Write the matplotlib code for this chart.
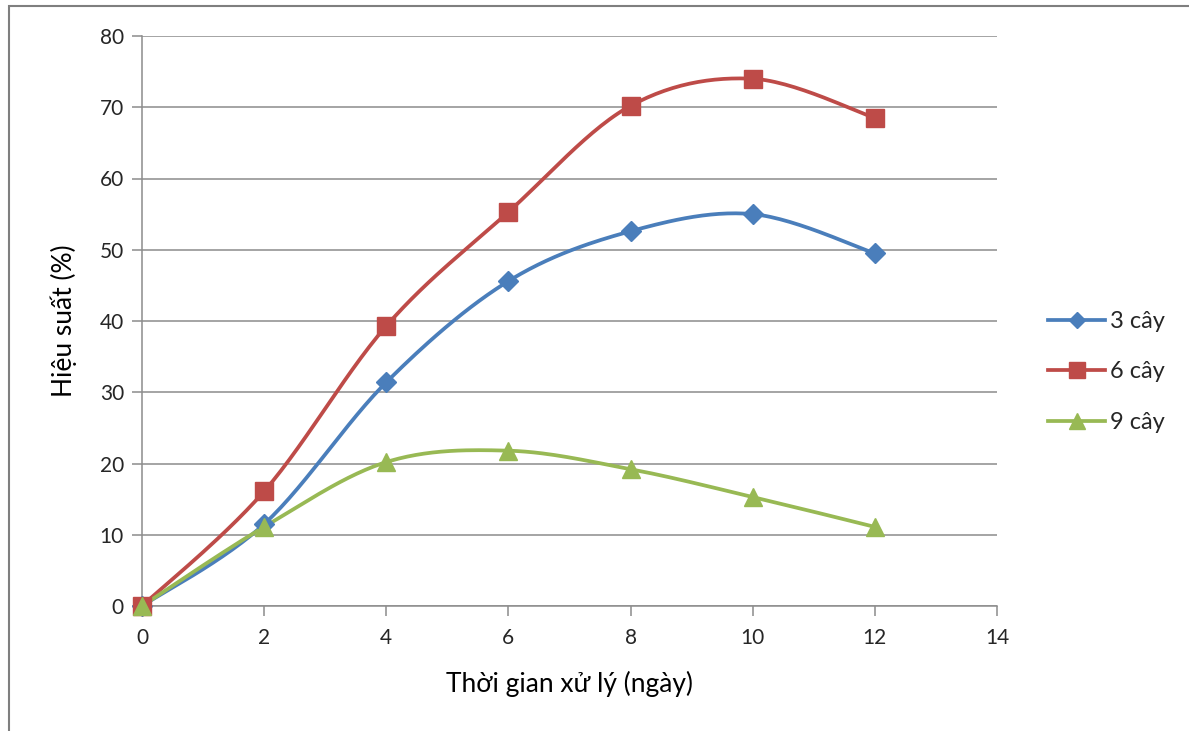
import matplotlib
import matplotlib.pyplot as plt
import numpy as np
from matplotlib.patches import Rectangle

matplotlib.use("Agg")

# Treatment time (days) and removal efficiency (%) per planting density
days = [0, 2, 4, 6, 8, 10, 12]
eff_3 = [0, 11.5, 31.4, 45.6, 52.6, 55.0, 49.5]
eff_6 = [0, 16.1, 39.3, 55.3, 70.2, 74.0, 68.5]
eff_9 = [0, 11.1, 20.2, 21.8, 19.2, 15.3, 11.1]
labels = ["3 cây", "6 cây", "9 cây"]

COLORS = ["#4A7EBB", "#BE4B48", "#98B954"]
MARKERS = ["D", "s", "^"]
MSIZES = [10, 13, 13]
GRID = "#8c8c8c"
INK = "#262626"

plt.rcParams.update({
    "font.family": ["Lato", "Noto Sans", "DejaVu Sans"],
    "text.color": INK,
    "xtick.color": INK,
    "ytick.color": INK,
})


def smooth(x, y, n=30):
    """Excel-style smoothed line: Catmull-Rom through every point."""
    x = np.asarray(x, float)
    y = np.asarray(y, float)
    px = np.concatenate([[x[0]], x, [x[-1]]])
    py = np.concatenate([[y[0]], y, [y[-1]]])
    xs, ys = [], []
    t = np.linspace(0, 1, n)
    for i in range(1, len(px) - 2):
        p0 = np.array([px[i], py[i]])
        p3 = np.array([px[i + 1], py[i + 1]])
        c1 = p0 + (np.array([px[i + 1], py[i + 1]]) - np.array([px[i - 1], py[i - 1]])) / 6
        c2 = p3 - (np.array([px[i + 2], py[i + 2]]) - np.array([px[i], py[i]])) / 6
        b = ((1 - t) ** 3)[:, None] * p0 + (3 * (1 - t) ** 2 * t)[:, None] * c1 \
            + (3 * (1 - t) * t ** 2)[:, None] * c2 + (t ** 3)[:, None] * p3
        xs.append(b[:, 0])
        ys.append(b[:, 1])
    return np.concatenate(xs), np.concatenate(ys)


fig = plt.figure(figsize=(11.89, 7.31), dpi=100)
ax = fig.add_axes([142 / 1189, 1 - 606 / 731, 855 / 1189, 570 / 731])

for series, color, marker, ms, label in zip([eff_3, eff_6, eff_9], COLORS, MARKERS, MSIZES, labels):
    sx, sy = smooth(days, series)
    ax.plot(sx, sy, color=color, lw=2.7, solid_capstyle="round", zorder=3, clip_on=False)
    ax.plot(days, series, ls="none", marker=marker, ms=ms, color=color, zorder=4, clip_on=False)
    ax.plot([], [], color=color, lw=2.7, marker=marker, ms=ms * 0.85, label=label)

ax.set_xlim(0, 14)
ax.set_ylim(0, 80)
ax.set_xticks(range(0, 15, 2))
ax.set_yticks(range(0, 81, 10))
ax.grid(axis="y", color=GRID, lw=1.1)
ax.set_axisbelow(True)
for side in ("top", "right"):
    ax.spines[side].set_visible(False)
for side in ("left", "bottom"):
    ax.spines[side].set_color(GRID)
    ax.spines[side].set_linewidth(1.1)
ax.tick_params(length=7, width=1.1, color=GRID, labelsize=15, pad=6)
ax.tick_params(axis="x", pad=9)

ax.set_xlabel("Thời gian xử lý (ngày)", fontsize=19, labelpad=16)
ax.set_ylabel("Hiệu suất (%)", fontsize=19, labelpad=16)

ax.legend(loc="upper left", bbox_to_anchor=(1.035, 0.555), frameon=False,
          fontsize=17, handlelength=2.4, handletextpad=0.2, labelspacing=1.25)

# outer chart frame
fig.patches.append(Rectangle((9 / 1189, -0.05), 1.1, 1 - 6 / 731 + 0.05,
                             transform=fig.transFigure, fill=False,
                             edgecolor="#7f7f7f", lw=1.5))

fig.savefig("out.png", dpi=100)
